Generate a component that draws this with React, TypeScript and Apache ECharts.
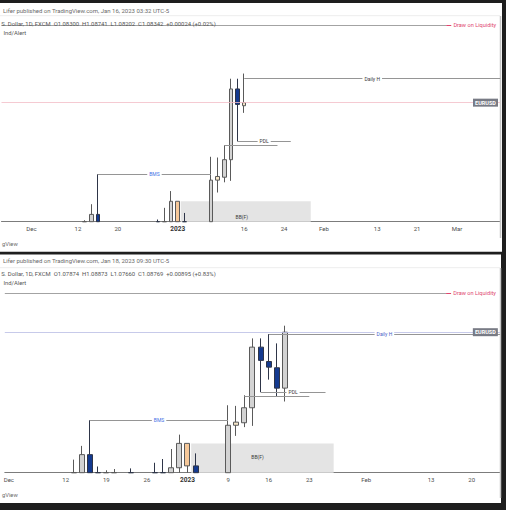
import React, { useEffect, useRef } from 'react';
import * as echarts from 'echarts';

// ---------- axis calendars (trading days, Mon-Fri) ----------
function weekdays(start: string, count: number): string[] {
  const out: string[] = [];
  const d = new Date(start + 'T00:00:00Z');
  while (out.length < count) {
    const wd = d.getUTCDay();
    if (wd !== 0 && wd !== 6) out.push(d.toISOString().slice(0, 10));
    d.setUTCDate(d.getUTCDate() + 1);
  }
  return out;
}
const topDays = weekdays('2022-11-25', 75);
const bottomDays = weekdays('2022-12-01', 61);

// ---------- tick labels ----------
const topTickDates = ['2022-12-01', '2022-12-12', '2022-12-20', '2023-01-02', '2023-01-16', '2023-01-24', '2023-02-01', '2023-02-13', '2023-02-21', '2023-03-01'];
const topTickLabels = ['Dec', '12', '20', '2023', '16', '24', 'Feb', '13', '21', 'Mar'];
const bottomTickDates = ['2022-12-01', '2022-12-12', '2022-12-19', '2022-12-26', '2023-01-02', '2023-01-09', '2023-01-16', '2023-01-23', '2023-02-01', '2023-02-13', '2023-02-20'];
const bottomTickLabels = ['Dec', '12', '19', '26', '2023', '9', '16', '23', 'Feb', '13', '20'];

// ---------- shared daily history (EURUSD, FXCM) ----------
const histDates = ['2022-12-13', '2022-12-14', '2022-12-15', '2022-12-16', '2022-12-19', '2022-12-20', '2022-12-22', '2022-12-27', '2022-12-28', '2022-12-29', '2022-12-30', '2023-01-02', '2023-01-03', '2023-01-09', '2023-01-10', '2023-01-11', '2023-01-12', '2023-01-13'];
const histOpen = [1.0630, 1.0631, 1.0681, 1.0625, 1.0584, 1.0606, 1.0635, 1.0640, 1.0638, 1.0612, 1.0660, 1.0699, 1.0663, 1.0645, 1.0728, 1.0732, 1.0756, 1.0853];
const histClose = [1.0631, 1.0681, 1.0625, 1.0585, 1.0606, 1.0622, 1.0595, 1.0638, 1.0612, 1.0660, 1.0699, 1.0663, 1.0546, 1.0728, 1.0733, 1.0756, 1.0853, 1.08318];
const histLow = [1.0600, 1.0620, 1.0610, 1.0578, 1.0573, 1.0590, 1.0575, 1.0625, 1.0600, 1.0605, 1.0648, 1.0648, 1.0520, 1.0640, 1.0711, 1.0725, 1.0727, 1.0781];
const histHigh = [1.0673, 1.0695, 1.0736, 1.0662, 1.0656, 1.0658, 1.0659, 1.0668, 1.0674, 1.0690, 1.0713, 1.0699, 1.0683, 1.0760, 1.0759, 1.0776, 1.0867, 1.0867];
const histTone = ['up', 'up', 'down', 'down', 'up', 'up', 'down', 'down', 'down', 'up', 'up', 'accent', 'down', 'up', 'pale', 'up', 'up', 'down'];

// snapshot 1 (Jan 16, 03:32)
const topLastDates = ['2023-01-16'];
const topLastOpen = [1.083];
const topLastClose = [1.08342];
const topLastLow = [1.08202];
const topLastHigh = [1.08741];
const topLastTone = ['pale'];

// snapshot 2 (Jan 18, 09:30)
const bottomLastDates = ['2023-01-16', '2023-01-17', '2023-01-18'];
const bottomLastOpen = [1.0830, 1.0820, 1.07874];
const bottomLastClose = [1.0821, 1.07874, 1.08769];
const bottomLastLow = [1.0801, 1.0774, 1.0766];
const bottomLastHigh = [1.0874, 1.0859, 1.08873];
const bottomLastTone = ['down', 'down', 'up'];

// ---------- drawings ----------
const liquidityPrice = 1.094;

const topLevelNames = ['Daily H', 'PDL', '', 'BMS'];
const topLevelPrices = [1.0867, 1.0781, 1.0776, 1.0736];
const topLevelFrom = ['2023-01-16', '2023-01-13', '2023-01-11', '2022-12-15'];
const topLevelTo = ['edge', '2023-01-25', '2023-01-23', '2023-01-09'];

const bottomLevelNames = ['Daily H', 'PDL', '', 'BMS'];
const bottomLevelPrices = [1.0874, 1.0781, 1.0774, 1.0736];
const bottomLevelFrom = ['2023-01-16', '2023-01-13', '2023-01-11', '2022-12-15'];
const bottomLevelTo = ['edge', '2023-01-25', '2023-01-23', '2023-01-09'];

const boxFrom = '2023-01-02';
const topBoxTo = '2023-01-30';
const bottomBoxTo = '2023-01-26';
const boxTopPrice = 1.0699;
const boxLabelPrice = 1.0677;

// ---------- styles ----------
const FONT = 'Roboto, "Liberation Sans", sans-serif';
const toneStyle: Record<string, { fill: string; border: string }> = {
  up: { fill: '#d3d3d3', border: '#5a5a5a' },
  down: { fill: '#143a90', border: '#2e3548' },
  accent: { fill: '#f6c899', border: '#5a5a5a' },
  pale: { fill: '#f7e7c9', border: '#5a5a5a' },
};

function candleItems(days: string[], dates: string[], o: number[], c: number[], l: number[], h: number[], tones: string[]) {
  return dates.map((d, i) => {
    const s = toneStyle[tones[i]];
    return {
      value: [days.indexOf(d), o[i], c[i], l[i], h[i]],
      itemStyle: { color: s.fill, color0: s.fill, borderColor: s.border, borderColor0: s.border, borderColorDoji: s.border, borderWidth: 1 },
    };
  });
}

function legendText(o: number, h: number, l: number, c: number, prev: number) {
  const ch = c - prev;
  const pct = (ch / prev) * 100;
  const sign = ch >= 0 ? '+' : '';
  return `S. Dollar, 1D, FXCM  O${o.toFixed(5)}  H${h.toFixed(5)}  L${l.toFixed(5)}  C${c.toFixed(5)}  ${sign}${ch.toFixed(5)} (${sign}${pct.toFixed(2)}%)`;
}

type PanelSpec = {
  days: string[];
  left: number; top: number; width: number; height: number;
  yMin: number; yMax: number; barW: number;
  candles: any[];
  close: number; priceLineColor: string;
  names: string[]; prices: number[]; from: string[]; to: string[];
  dailyHColor: string;
  boxTo: string;
  tickDates: string[]; tickLabels: string[];
};

function buildPanel(p: PanelSpec, gi: number) {
  const n = p.days.length;
  const xMax = n - 0.5;
  const spacing = p.width / n;
  const idx = (d: string) => (d === 'edge' ? xMax : p.days.indexOf(d));
  const tickIdx = p.tickDates.map((d) => p.days.indexOf(d));

  // the pane cuts candles at its bottom edge
  const candles = p.candles
    .filter((it) => it.value[4] > p.yMin)
    .map((it) => ({ ...it, value: it.value.map((v: number, k: number) => (k === 0 ? v : Math.max(v, p.yMin))) }));

  const lines: any[] = [];
  const labels: any[] = [];
  p.names.forEach((name, i) => {
    const a = idx(p.from[i]);
    const b = idx(p.to[i]);
    lines.push([
      { coord: [a, p.prices[i]], lineStyle: { color: '#959595', width: 1, type: 'solid' } },
      { coord: [b, p.prices[i]] },
    ]);
    if (name) {
      const color = name === 'BMS' ? '#3f6fe6' : name === 'Daily H' ? p.dailyHColor : '#3a3a3a';
      labels.push({
        coord: [(a + b) / 2, p.prices[i]],
        symbol: 'rect', symbolSize: [1, 1], itemStyle: { color: 'rgba(0,0,0,0)' },
        label: { show: true, position: 'inside', formatter: name, color, fontSize: 5, fontFamily: FONT, backgroundColor: '#ffffff', padding: [1, 2] },
      });
    }
  });
  // liquidity line: grey part, red lead-in, red label
  const liqEnd = xMax - 54 / spacing;
  const liqRedEnd = xMax - 49 / spacing;
  lines.push([
    { coord: [-0.5, liquidityPrice], lineStyle: { color: '#a3a3a3', width: 1, type: 'solid' } },
    { coord: [liqEnd, liquidityPrice] },
  ]);
  lines.push([
    { coord: [liqEnd, liquidityPrice], lineStyle: { color: '#e0466e', width: 1, type: 'solid' } },
    { coord: [liqRedEnd, liquidityPrice] },
  ]);
  labels.push({
    coord: [xMax - 25.5 / spacing, liquidityPrice],
    symbol: 'rect', symbolSize: [1, 1], itemStyle: { color: 'rgba(0,0,0,0)' },
    label: { show: true, position: 'inside', formatter: 'Draw on Liquidity', color: '#e0466e', fontSize: 5.6, fontFamily: FONT },
  });
  // last price line + tag
  lines.push({ yAxis: p.close, lineStyle: { color: p.priceLineColor, width: 0.8, type: 'solid' } });
  labels.push({
    coord: [xMax - 14.75 / spacing, p.close],
    symbol: 'rect', symbolSize: [25, 8], itemStyle: { color: '#787b85' },
    label: { show: true, position: 'inside', formatter: 'EURUSD', color: '#ffffff', fontSize: 5.5, fontWeight: 'bold', fontFamily: FONT },
  });
  // box label
  const bx0 = idx(boxFrom) + 0.45;
  const bx1 = idx(p.boxTo);
  labels.push({
    coord: [(bx0 + bx1) / 2 - 0.6, boxLabelPrice],
    symbol: 'rect', symbolSize: [1, 1], itemStyle: { color: 'rgba(0,0,0,0)' },
    label: { show: true, position: 'inside', formatter: 'BB(F)', color: '#3a3a3a', fontSize: 5, fontFamily: FONT },
  });

  return {
    grid: { left: p.left, top: p.top, width: p.width, height: p.height, show: false },
    xAxis: {
      type: 'value', gridIndex: gi, min: -0.5, max: xMax,
      axisLine: { show: true, onZero: false, lineStyle: { color: '#7c7c7c', width: 1 } },
      axisTick: { show: false },
      splitLine: { show: false },
      axisLabel: {
        show: true,
        customValues: tickIdx,
        margin: 4,
        fontSize: 6,
        color: '#4d4d4d',
        fontFamily: FONT,
        formatter: (v: number) => {
          const k = tickIdx.indexOf(Math.round(v));
          if (k < 0) return '';
          const t = p.tickLabels[k];
          return t === '2023' ? '{b|2023}' : t;
        },
        rich: { b: { fontWeight: 'bold', fontSize: 6.5, color: '#333', fontFamily: FONT } },
      },
    },
    yAxis: { type: 'value', gridIndex: gi, min: p.yMin, max: p.yMax, show: false, splitLine: { show: false } },
    series: {
      type: 'candlestick',
      xAxisIndex: gi, yAxisIndex: gi,
      barWidth: p.barW,
      clip: true,
      data: candles,
      markArea: {
        silent: true,
        itemStyle: { color: '#e4e4e4' },
        data: [[{ coord: [bx0, boxTopPrice] }, { coord: [bx1, p.yMin] }]],
      },
      markLine: { silent: true, precision: 6, symbol: ['none', 'none'], label: { show: false }, data: lines },
      markPoint: { silent: true, data: labels },
    },
  };
}

const topCandles = [
  ...candleItems(topDays, histDates, histOpen, histClose, histLow, histHigh, histTone),
  ...candleItems(topDays, topLastDates, topLastOpen, topLastClose, topLastLow, topLastHigh, topLastTone),
];
const bottomCandles = [
  ...candleItems(bottomDays, histDates, histOpen, histClose, histLow, histHigh, histTone),
  ...candleItems(bottomDays, bottomLastDates, bottomLastOpen, bottomLastClose, bottomLastLow, bottomLastHigh, bottomLastTone),
];

const topLegend = legendText(topLastOpen[0], topLastHigh[0], topLastLow[0], topLastClose[0], histClose[histClose.length - 1]);
const bottomLegend = legendText(bottomLastOpen[2], bottomLastHigh[2], bottomLastLow[2], bottomLastClose[2], bottomLastClose[1]);

export default function App() {
  const ref = useRef<HTMLDivElement>(null);
  useEffect(() => {
    if (!ref.current) return;
    const chart = echarts.init(ref.current, undefined, { renderer: 'svg' });
    const top = buildPanel({
      days: topDays, left: 1.5, top: 16, width: 498.75, height: 205.7,
      yMin: 1.0671, yMax: 1.0953, barW: 4,
      candles: topCandles, close: topLastClose[0], priceLineColor: '#f3bcc7',
      names: topLevelNames, prices: topLevelPrices, from: topLevelFrom, to: topLevelTo,
      dailyHColor: '#3a3a3a', boxTo: topBoxTo,
      tickDates: topTickDates, tickLabels: topTickLabels,
    }, 0);
    const bot = buildPanel({
      days: bottomDays, left: 4.8, top: 268, width: 495.3, height: 204.7,
      yMin: 1.06521, yMax: 1.09796, barW: 5.5,
      candles: bottomCandles, close: bottomLastClose[2], priceLineColor: '#b9bce4',
      names: bottomLevelNames, prices: bottomLevelPrices, from: bottomLevelFrom, to: bottomLevelTo,
      dailyHColor: '#4a62c8', boxTo: bottomBoxTo,
      tickDates: bottomTickDates, tickLabels: bottomTickLabels,
    }, 1);

    const txt = (text: string, x: number, y: number, size: number, fill: string) => ({
      type: 'text', z: 50, silent: true,
      style: { text, x, y, fill, fontSize: size, fontFamily: FONT, verticalAlign: 'middle', align: 'left' },
    });
    const line = (x1: number, y1: number, x2: number, y2: number, stroke: string, w: number) => ({
      type: 'line', z: 1, silent: true, shape: { x1, y1, x2, y2 }, style: { stroke, lineWidth: w },
    });

    chart.setOption({
      animation: false,
      backgroundColor: '#1e1e1e',
      textStyle: { fontFamily: FONT },
      grid: [top.grid, bot.grid],
      xAxis: [top.xAxis, bot.xAxis],
      yAxis: [top.yAxis, bot.yAxis],
      series: [top.series, bot.series],
      graphic: [
        { type: 'rect', z: -5, silent: true, shape: { x: 0, y: 3, width: 502, height: 248.7 }, style: { fill: '#ffffff' } },
        { type: 'rect', z: -5, silent: true, shape: { x: 0, y: 254.5, width: 501, height: 248.5 }, style: { fill: '#ffffff' } },
        line(0, 15.7, 500, 15.7, '#ededed', 1),
        line(0, 267.7, 500, 267.7, '#ededed', 1),
        line(500.5, 16, 500.5, 238, '#c6c6c6', 1.5),
        line(500.5, 268, 500.5, 498, '#c6c6c6', 1.5),
        txt('Lifer published on TradingView.com, Jan 16, 2023 03:32 UTC-5', 3, 10, 6, '#6a6a6a'),
        txt(topLegend, 1.3, 24, 5.9, '#555555'),
        txt('Ind/Alert', 3.5, 32.7, 5.8, '#555555'),
        txt('gView', 2, 244, 5.8, '#6a6a6a'),
        txt('Lifer published on TradingView.com, Jan 18, 2023 09:30 UTC-5', 3, 260.7, 6, '#6a6a6a'),
        txt(bottomLegend, 1.3, 274.3, 5.9, '#555555'),
        txt('Ind/Alert', 3.5, 283.3, 5.8, '#555555'),
        txt('gView', 2, 495, 5.8, '#6a6a6a'),
      ],
    });
    return () => chart.dispose();
  }, []);
  return <div ref={ref} style={{ position: 'fixed', left: 0, top: 0, width: 506, height: 510 }} />;
}
